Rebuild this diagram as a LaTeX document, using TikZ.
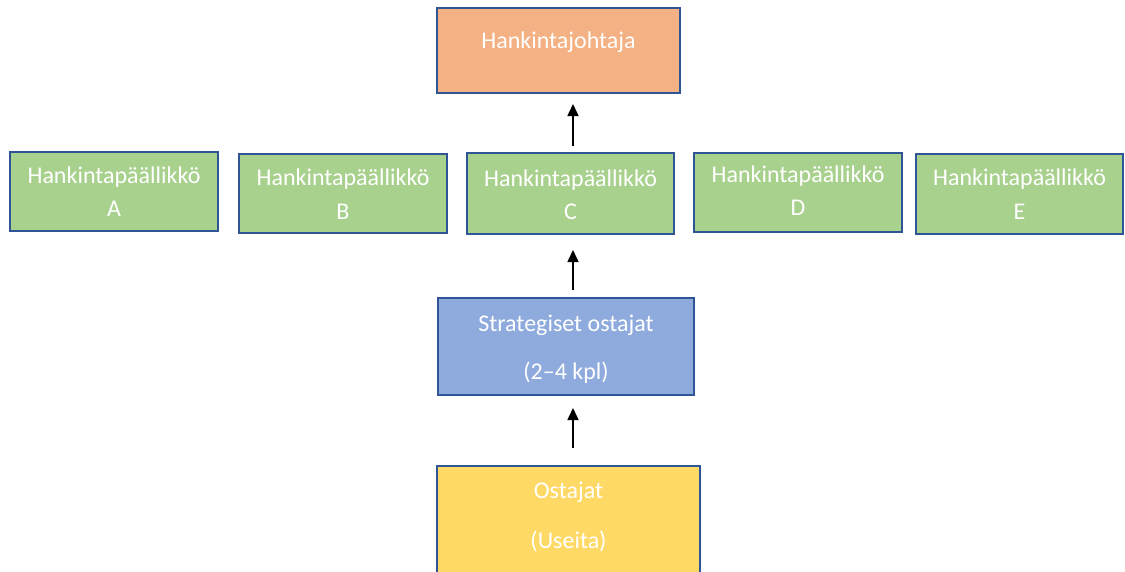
\documentclass[tikz,border=0pt]{standalone}
\usepackage{fontspec}
\setmainfont{Carlito}
\usetikzlibrary{arrows.meta}
\definecolor{bordc}{HTML}{2F5597}
\definecolor{orangec}{HTML}{F4B183}
\definecolor{greenc}{HTML}{A9D18E}
\definecolor{bluec}{HTML}{8FAADC}
\definecolor{yellowc}{HTML}{FFD966}
\tikzset{
  box/.style={draw=bordc, line width=2.8pt, inner sep=0pt, outer sep=0pt},
  lbl/.style={text=white, font=\fontsize{24}{29}\selectfont, inner sep=0pt, anchor=center},
  arr/.style={line width=1.5pt, -{Triangle[width=11pt,length=12pt]}}
}
\begin{document}
\begin{tikzpicture}[x=1pt,y=-1pt]
\useasboundingbox (0,0) rectangle (1125,571);
\clip (0,0) rectangle (1125,571);
% boxes
\node[box, fill=orangec, minimum width=243pt, minimum height=85pt] (H) at (558.5,50.5) {};
\node[box, fill=greenc, minimum width=208pt, minimum height=79pt] (A) at (114,191.5) {};
\node[box, fill=greenc, minimum width=208pt, minimum height=79pt] (B) at (343,193.5) {};
\node[box, fill=greenc, minimum width=207pt, minimum height=81pt] (C) at (570.5,193.5) {};
\node[box, fill=greenc, minimum width=208pt, minimum height=79pt] (D) at (798,192.5) {};
\node[box, fill=greenc, minimum width=207pt, minimum height=80pt] (E) at (1019.5,194) {};
\node[box, fill=bluec, minimum width=256pt, minimum height=97pt] (S) at (566,346.5) {};
\node[box, fill=yellowc, minimum width=263pt, minimum height=140pt] (O) at (568.5,536) {};
% texts
\node[lbl] (Ht) at (558.5,42) {Hankintajohtaja};
\node[lbl] (At1) at (114,177) {Hankintapäällikkö};
\node[lbl] (At2) at (114,209) {A};
\node[lbl] (Bt1) at (343,179) {Hankintapäällikkö};
\node[lbl] (Bt2) at (343,212) {B};
\node[lbl] (Ct1) at (570.5,180) {Hankintapäällikkö};
\node[lbl] (Ct2) at (570.5,212) {C};
\node[lbl] (Dt1) at (798,176) {Hankintapäällikkö};
\node[lbl] (Dt2) at (798,208) {D};
\node[lbl] (Et1) at (1019.5,179.5) {Hankintapäällikkö};
\node[lbl] (Et2) at (1019.5,211.5) {E};
\node[lbl] (St1) at (566,325) {Strategiset ostajat};
\node[lbl] (St2) at (566,373) {(2–4 kpl)};
\node[lbl] (Ot1) at (568.5,492) {Ostajat};
\node[lbl] (Ot2) at (568.5,541) {(Useita)};
% arrows
\coordinate (ax) at (573,0);
\draw[arr, shorten <=7pt, shorten >=11pt] (C.north -| ax) -- (H.south -| ax);
\draw[arr, shorten <=8pt, shorten >=16pt] (S.north -| ax) -- (C.south -| ax);
\draw[arr, shorten <=18pt, shorten >=13pt] (O.north -| ax) -- (S.south -| ax);
\end{tikzpicture}
\end{document}
